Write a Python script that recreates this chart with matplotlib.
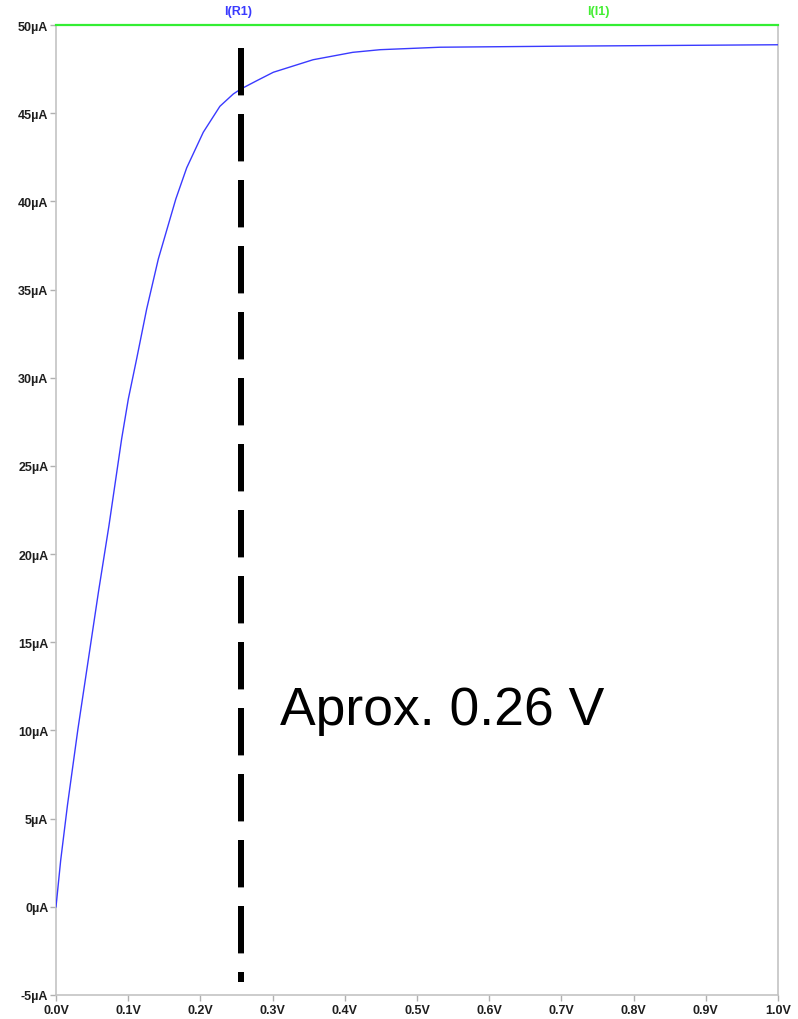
import matplotlib.pyplot as plt

plt.rcParams['font.family'] = ['Liberation Sans', 'DejaVu Sans']

# I(R1) sweep, volts / microamps
v_r1 = [0, 0.0065, 0.0159, 0.0303, 0.0446, 0.0589, 0.0733, 0.0909, 0.1002,
        0.1117, 0.1256, 0.1417, 0.166, 0.181, 0.204, 0.227, 0.2456, 0.256,
        0.278, 0.301, 0.356, 0.411, 0.449, 0.532, 0.7, 1.0]
i_r1 = [0, 2.64, 5.77, 10.06, 13.97, 17.88, 21.6, 26.53, 28.8,
        31.07, 33.9, 36.73, 40.14, 41.9, 43.92, 45.39, 46.09, 46.37,
        46.84, 47.32, 48.03, 48.45, 48.6, 48.74, 48.8, 48.88]

# I(I1) is a constant source
v_i1 = [0, 1.0]
i_i1 = [50, 50]

x_ticks = [0.0, 0.1, 0.2, 0.3, 0.4, 0.5, 0.6, 0.7, 0.8, 0.9, 1.0]
y_ticks = [-5, 0, 5, 10, 15, 20, 25, 30, 35, 40, 45, 50]

marker_v = 0.256
marker_span = [48.7, -4.25]
note = "Aprox. 0.26 V"

fig = plt.figure(figsize=(7.98, 10.2), dpi=100)
ax = fig.add_axes([56 / 798, 1 - 996 / 1020, 722 / 798, 970 / 1020])

ax.plot(v_r1, i_r1, color='#3a3aff', lw=1.0, zorder=3)
ax.plot(v_i1, i_i1, color='#33ee33', lw=1.6, zorder=4, clip_on=False)

# dashed marker, drawn top-down so the dash pattern starts at the top
ax.plot([marker_v, marker_v], marker_span, color='black', lw=4.32,
        linestyle=(0, (7.9, 3.1)), dash_capstyle='butt', zorder=5)
ax.text(0.31, 10.37, note, fontsize=38.5, color='black', va='baseline', ha='left')

ax.set_xlim(0, 1.0)
ax.set_ylim(-5, 50)
ax.set_xticks(x_ticks)
ax.set_xticklabels([f"{x:.1f}V" for x in x_ticks])
ax.set_yticks(y_ticks)
ax.set_yticklabels([f"{y}µA" for y in y_ticks])

for side in ['left', 'right', 'bottom']:
    ax.spines[side].set_color('#c4c4c4')
    ax.spines[side].set_linewidth(1.2)
ax.spines['top'].set_visible(False)

ax.tick_params(axis='both', colors='#b0b0b0', length=4, width=1.0,
               labelcolor='#1e1e1e', labelsize=9)
ax.tick_params(axis='x', pad=2.5)
ax.tick_params(axis='y', pad=1.5)
for lab in ax.get_xticklabels() + ax.get_yticklabels():
    lab.set_fontweight('bold')

fig.text(238 / 798, 1 - 12 / 1020, "I(R1)", color='#3a3aff', fontsize=9,
         fontweight='bold', ha='center', va='center')
fig.text(598 / 798, 1 - 12 / 1020, "I(I1)", color='#44ee33', fontsize=9,
         fontweight='bold', ha='center', va='center')

fig.savefig('out.png', dpi=100)
